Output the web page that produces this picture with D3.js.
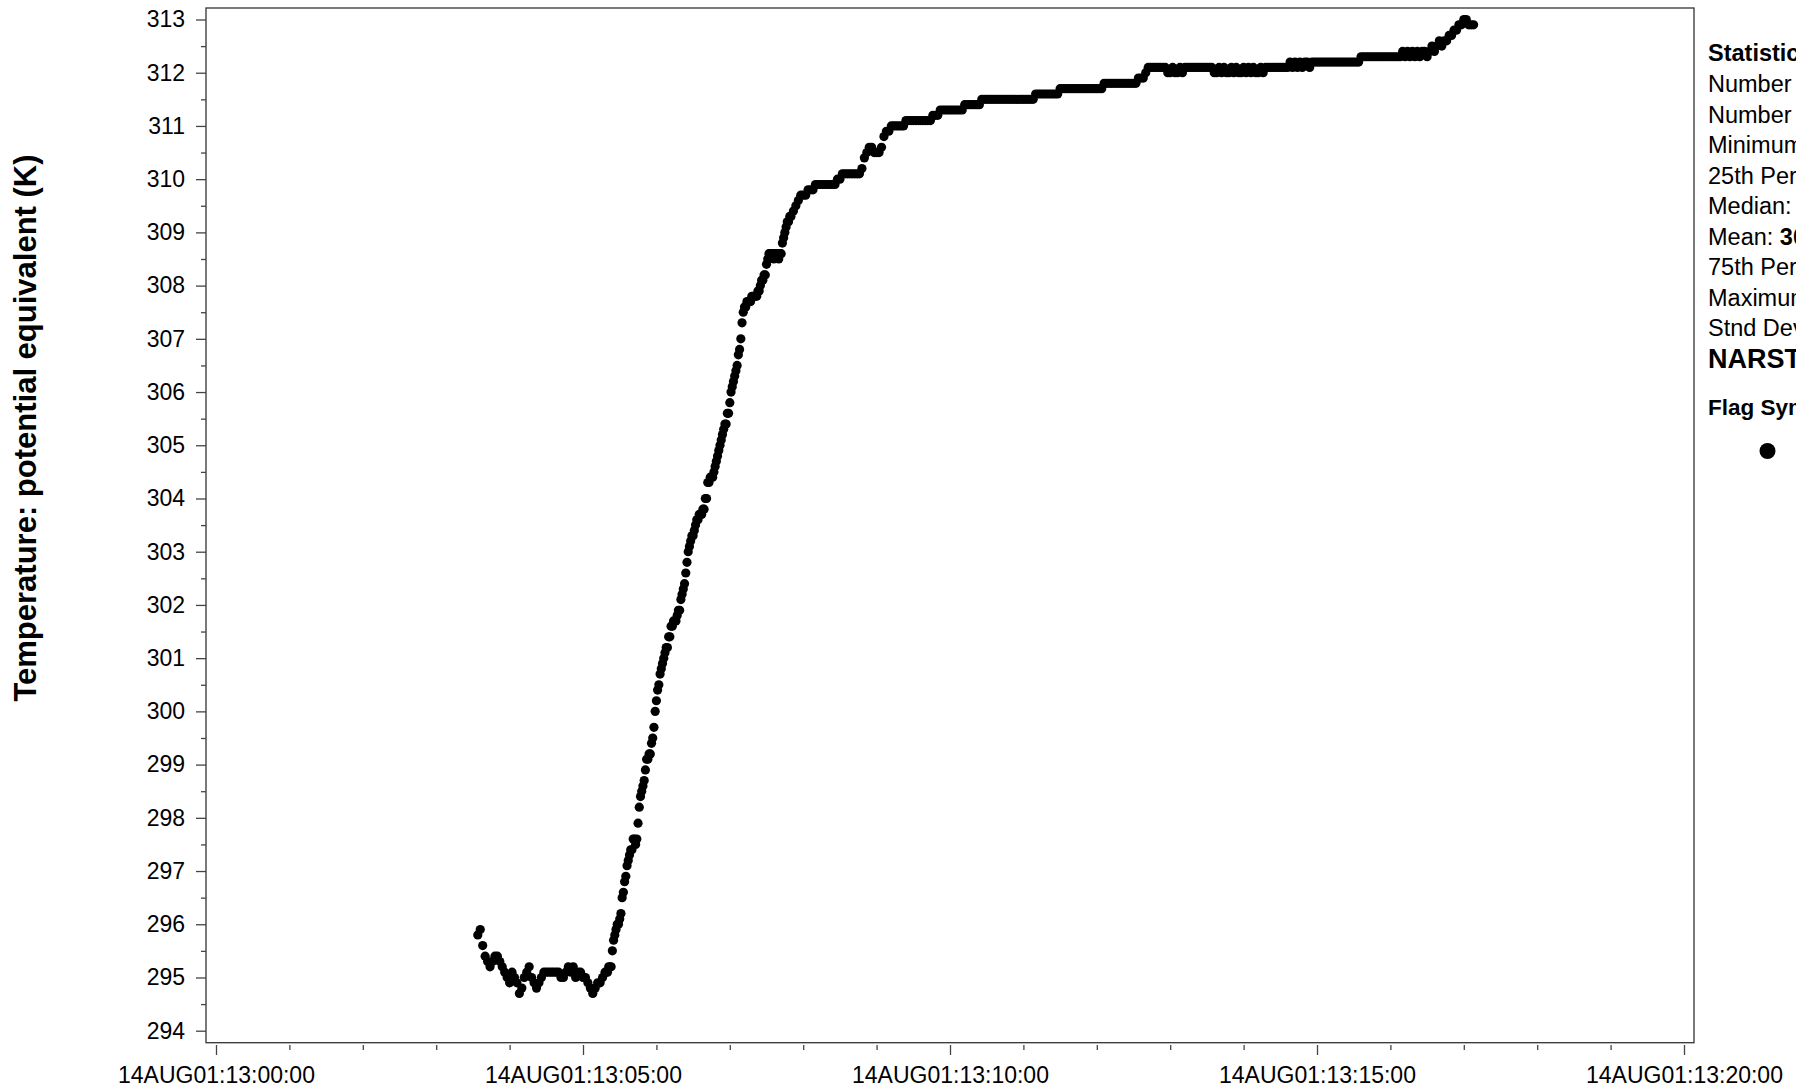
<!DOCTYPE html>
<html><head><meta charset="utf-8">
<script src="https://cdn.jsdelivr.net/npm/d3@7"></script>
<style>
body{margin:0;background:#fff;overflow:hidden}
svg{display:block;font-family:"Liberation Sans",Arial,Helvetica,sans-serif}
</style>
</head><body>
<svg id="chart" width="1796" height="1089"></svg>
<script>
// ---- data ----
// seconds after 14AUG01:13:00:00 of first sample, and sampling step (s)
const seg1Start = 214, seg1Step = 2;
const seg1Values = [
 295.8,295.9,295.6,295.4,295.3,295.2,295.3,295.4,295.4,295.3,
 295.2,295.1,295.0,294.9,295.1,295.0,294.9,294.7,294.8,295.0,
 295.1,295.2,295.0,294.9,294.8,294.9,295.0,295.1,295.1,295.1,
 295.1,295.1,295.1,295.1,295.0,295.0,295.1,295.2,295.1,295.2,
 295.0,295.1,295.1,295.0,295.0,294.9,294.8,294.7,294.8,294.9,
 294.9,295.0,295.1];
const seg2Start = 319, seg2Step = 1;
const seg2Values = [
 295.1,295.1,295.2,295.2,295.2,295.5,295.7,295.8,295.9,296.0,
 296.0,296.1,296.2,296.5,296.6,296.8,296.9,297.1,297.2,297.3,
 297.4,297.4,297.6,297.6,297.5,297.6,297.9,298.2,298.4,298.5,
 298.6,298.7,298.9,299.1,299.1,299.2,299.2,299.4,299.5,299.7,
 300.0,300.2,300.4,300.5,300.7,300.8,300.9,301.0,301.1,301.2,
 301.2,301.4,301.4,301.6,301.6,301.7,301.7,301.7,301.8,301.9,
 301.9,302.1,302.2,302.3,302.4,302.6,302.8,303.0,303.1,303.2,
 303.3,303.3,303.4,303.5,303.6,303.6,303.7,303.7,303.7,303.8,
 303.8,304.0,304.0,304.3,304.3,304.4,304.4,304.4,304.5,304.6,
 304.7,304.8,304.9,305.0,305.1,305.2,305.3,305.4,305.4,305.6,
 305.6,305.8,306.0,306.1,306.2,306.3,306.4,306.5,306.7,306.8,
 307.0,307.3,307.5,307.6,307.6,307.7,307.7,307.7,307.7,307.8,
 307.8,307.8,307.8,307.8,307.9,307.9,308.0,308.1,308.1,308.2,
 308.2,308.4,308.5,308.6,308.6,308.6,308.6,308.5,308.6,308.6,
 308.6,308.5,308.6,308.6,308.8,308.9,309.0,309.1,309.2,309.2,
 309.3,309.3];
const seg3Start = 472, seg3Step = 2;
const seg3Values = [
 309.4,309.5,309.6,309.7,309.7,309.7,309.8,309.8,309.8,309.9,
 309.9,309.9,309.9,309.9,309.9,309.9,309.9,309.9,310.0,310.0,
 310.1,310.1,310.1,310.1,310.1,310.1,310.1,310.1,310.2,310.4,
 310.5,310.6,310.6,310.5,310.5,310.5,310.6,310.8,310.9,310.9,
 311.0,311.0,311.0,311.0,311.0,311.0,311.1,311.1,311.1,311.1,
 311.1,311.1,311.1,311.1,311.1,311.1,311.1,311.2,311.2,311.2,
 311.3,311.3,311.3,311.3,311.3,311.3,311.3,311.3,311.3,311.3,
 311.4,311.4,311.4,311.4,311.4,311.4,311.4,311.5,311.5,311.5,
 311.5,311.5,311.5,311.5,311.5,311.5,311.5,311.5,311.5,311.5,
 311.5,311.5,311.5,311.5,311.5,311.5,311.5,311.5,311.5,311.6,
 311.6,311.6,311.6,311.6,311.6,311.6,311.6,311.6,311.6,311.7,
 311.7,311.7,311.7,311.7,311.7,311.7,311.7,311.7,311.7,311.7,
 311.7,311.7,311.7,311.7,311.7,311.7,311.7,311.8,311.8,311.8,
 311.8,311.8,311.8,311.8,311.8,311.8,311.8,311.8,311.8,311.8,
 311.8,311.9,311.9,311.9,312.0,312.1,312.1,312.1,312.1,312.1,
 312.1,312.1,312.1,312.0,312.0,312.1,312.0,312.0,312.1,312.0,
 312.1,312.1,312.1,312.1,312.1,312.1,312.1,312.1,312.1,312.1,
 312.1,312.1,312.0,312.0,312.1,312.0,312.1,312.0,312.0,312.1,
 312.0,312.1,312.0,312.0,312.1,312.0,312.1,312.0,312.1,312.0,
 312.0,312.1,312.0,312.1,312.1,312.1,312.1,312.1,312.1,312.1,
 312.1,312.1,312.1,312.2,312.1,312.2,312.1,312.2,312.1,312.2,
 312.2,312.1,312.2,312.2,312.2,312.2,312.2,312.2,312.2,312.2,
 312.2,312.2,312.2,312.2,312.2,312.2,312.2,312.2,312.2,312.2,
 312.2,312.2,312.3,312.3,312.3,312.3,312.3,312.3,312.3,312.3,
 312.3,312.3,312.3,312.3,312.3,312.3,312.3,312.3,312.3,312.4,
 312.3,312.4,312.3,312.4,312.3,312.4,312.3,312.4,312.4,312.3,
 312.4,312.5,312.4,312.5,312.6,312.5,312.6,312.6,312.7,312.7,
 312.8,312.8,312.9,312.9,313.0,313.0,312.9,312.9,312.9];

const yTickValues = [294,295,296,297,298,299,300,301,302,303,304,305,306,307,308,309,310,311,312,313];
const xTickSeconds = [0, 300, 600, 900, 1200];
const xTickLabels = ["14AUG01:13:00:00","14AUG01:13:05:00","14AUG01:13:10:00","14AUG01:13:15:00","14AUG01:13:20:00"];
const xMinorSeconds = [60,120,180,240,360,420,480,540,660,720,780,840,960,1020,1080,1140];
const yAxisTitle = "Temperature: potential equivalent (K)";
const statLabels = ["Number of Points:","Number of Missing:","Minimum:","25th Percentile:","Median:","Mean:","75th Percentile:","Maximum:","Stnd Deviation:"];

// ---- build ----
const t = s => new Date(2001, 7, 14, 13, 0, 0, s * 1000);
function expand(start, step, vals){ return vals.map((v,i)=>({time:t(start+i*step), value:v})); }
const points = [].concat(expand(seg1Start,seg1Step,seg1Values), expand(seg2Start,seg2Step,seg2Values), expand(seg3Start,seg3Step,seg3Values));

const svg = d3.select("#chart");
const frame = {left:206, right:1694, top:8, bottom:1042.7};
const x = d3.scaleTime().domain([t(0), t(1200)]).range([216, 1684]);
const y = d3.scaleLinear().domain([294, 313]).range([1030.7, 19.5]);

// frame
svg.append("rect").attr("x",frame.left).attr("y",frame.top)
  .attr("width",frame.right-frame.left).attr("height",frame.bottom-frame.top)
  .attr("fill","none").attr("stroke","#333").attr("stroke-width",1.3);

// y axis
const yAx = svg.append("g").attr("transform",`translate(${frame.left},0)`)
  .call(d3.axisLeft(y).tickValues(yTickValues).tickSize(10).tickPadding(11).tickFormat(d3.format("d")));
const yMin = svg.append("g").attr("transform",`translate(${frame.left},0)`)
  .call(d3.axisLeft(y).tickValues(yTickValues.slice(0,-1).map(v=>v+0.5)).tickSize(5).tickFormat(""));
// x axis
const xAx = svg.append("g").attr("transform",`translate(0,${frame.bottom+2.3})`)
  .call(d3.axisBottom(x).tickValues(xTickSeconds.map(t)).tickSize(10).tickPadding(12)
    .tickFormat((d,i)=>xTickLabels[i]));
const xMin = svg.append("g").attr("transform",`translate(0,${frame.bottom+2.3})`)
  .call(d3.axisBottom(x).tickValues(xMinorSeconds.map(t)).tickSize(5).tickFormat(""));
[yAx,yMin,xAx,xMin].forEach(g=>{
  g.select(".domain").remove();
  g.selectAll(".tick line").attr("stroke","#444").attr("stroke-width",1.3);
  g.selectAll(".tick text").attr("fill","#000").style("font-size","23px")
    .style("font-family",'"Liberation Sans",Arial,sans-serif');
});

// axis title
svg.append("text").attr("transform","translate(36,428) rotate(-90)")
  .attr("text-anchor","middle").style("font-size","31px").style("font-weight","bold")
  .text(yAxisTitle);

// points
svg.append("g").selectAll("circle").data(points).join("circle")
  .attr("cx",d=>x(d.time)).attr("cy",d=>y(d.value)).attr("r",4.6).attr("fill","#000");

// statistics panel
const vals = points.map(d=>d.value).sort(d3.ascending);
const f1 = d3.format(".2f");
const statValues = [String(vals.length), "0", f1(d3.min(vals)), f1(d3.quantileSorted(vals,0.25)),
  f1(d3.median(vals)), f1(d3.mean(vals)), f1(d3.quantileSorted(vals,0.75)), f1(d3.max(vals)), f1(d3.deviation(vals))];
const panel = svg.append("g").attr("transform","translate(1708,0)");
panel.append("text").attr("y",61).style("font-size","23.5px").style("font-weight","bold").text("Statistics");
statLabels.forEach((lab,i)=>{
  const tx = panel.append("text").attr("y",92+i*30.5).style("font-size","23.5px");
  tx.append("tspan").text(lab+" ");
  tx.append("tspan").style("font-weight","bold").text(statValues[i]);
});
panel.append("text").attr("y",368).style("font-size","27px").style("font-weight","bold").text("NARSTO Flags");
panel.append("text").attr("y",415).style("font-size","22.5px").style("font-weight","bold").text("Flag Symbols");
panel.append("circle").attr("cx",59.5).attr("cy",451).attr("r",8).attr("fill","#000");
</script>
</body></html>
